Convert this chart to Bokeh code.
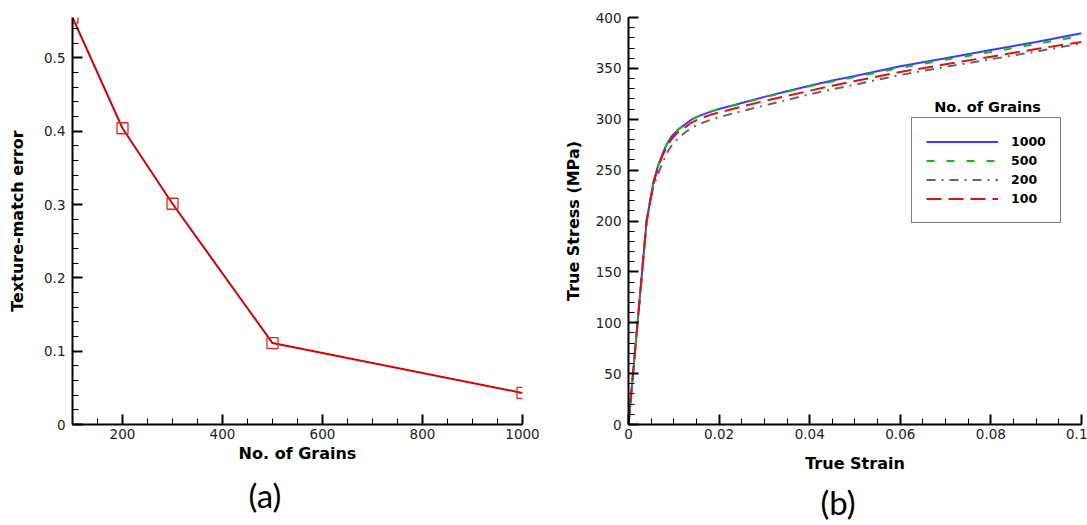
from bokeh.plotting import figure
from bokeh.models import (Range1d, SingleIntervalTicker, CustomJSTickFormatter,
                          Legend, LegendItem, Label, Title)
from bokeh.layouts import row
from bokeh.embed import file_html
from bokeh.resources import INLINE

# ---- data (a) ----
grains = [100, 200, 300, 500, 1000]
texture_error = [0.555, 0.404, 0.301, 0.111, 0.043]

# ---- data (b) ----
strain = [0, 0.001, 0.002, 0.003, 0.004, 0.0055, 0.0065, 0.0075, 0.0085, 0.0095,
          0.011, 0.0125, 0.014, 0.016, 0.0185, 0.02, 0.025, 0.03, 0.035, 0.04,
          0.045, 0.05, 0.06, 0.07, 0.08, 0.09, 0.1]
stress_1000 = [0, 50, 100, 150, 200, 238, 254, 266, 276, 283, 290, 295, 300, 304,
               308, 310, 316, 322, 327.5, 333, 338, 342.5, 352, 360, 368, 376, 384.5]
stress_500 = [0, 50, 100, 150, 200, 238, 254, 266, 276, 283, 290, 295, 300, 304,
              308, 310, 315.5, 321.5, 327, 332.5, 337, 341.5, 350.5, 358.5, 366, 374, 382]
stress_200 = [0, 50, 100, 150, 200, 234, 246, 257, 267, 274, 281.5, 287, 292, 296,
              300, 302, 308, 313.5, 319, 324.5, 329.5, 334, 343.5, 351.5, 359, 366.5, 374.5]
stress_100 = [0, 50, 100, 150, 200, 237, 252, 264, 273.5, 280.5, 287.5, 292, 297, 301,
              305, 306.7, 312.5, 318, 323, 328, 333, 337.5, 346.5, 354, 361.5, 369, 376]

FONT = "DejaVu Sans"


def style_axes(p):
    for ax in (p.xaxis[0], p.yaxis[0]):
        ax.axis_line_width = 2
        ax.axis_line_color = "black"
        ax.major_tick_in = 10
        ax.major_tick_out = 0
        ax.minor_tick_in = 6
        ax.minor_tick_out = 0
        ax.major_tick_line_width = 2
        ax.minor_tick_line_width = 1
        ax.major_tick_line_color = "black"
        ax.minor_tick_line_color = "black"
        ax.major_label_text_font = FONT
        ax.major_label_text_font_size = "13.5px"
        ax.major_label_text_color = "#222222"
        ax.axis_label_text_font = FONT
        ax.axis_label_text_font_style = "bold"
        ax.axis_label_text_font_size = "16px"
        ax.axis_label_text_color = "black"
    p.xaxis.major_label_standoff = 4
    p.yaxis.major_label_standoff = 7
    p.grid.visible = False
    p.outline_line_color = None


# ---------------- (a) ----------------
p1 = figure(width=560, height=525, output_backend="svg", toolbar_location=None,
            x_range=Range1d(100, 1000), y_range=Range1d(0, 0.555),
            min_border_left=72, min_border_right=38, min_border_top=17,
            min_border_bottom=97)
p1.line(grains, texture_error, line_color="#d40000", line_width=2)
p1.scatter(grains, texture_error, marker="square", size=11, fill_color=None,
           line_color="#e02828", line_width=1.3)
style_axes(p1)
p1.xaxis.ticker = SingleIntervalTicker(interval=200, num_minor_ticks=4)
p1.yaxis.ticker = SingleIntervalTicker(interval=0.1, num_minor_ticks=5)
p1.yaxis.formatter = CustomJSTickFormatter(code="return Number(tick.toFixed(2)).toString();")
p1.xaxis.axis_label = "No. of Grains"
p1.yaxis.axis_label = "Texture-match error"
p1.yaxis.axis_label_standoff = 14
p1.xaxis.axis_label_standoff = 2
p1.add_layout(Title(text="(a)", align="left", offset=176, text_font="Lato",
                    text_font_size="33px", text_font_style="normal",
                    text_line_height=0.7, text_color="black", standoff=14), "below")

# ---------------- (b) ----------------
p2 = figure(width=527, height=525, output_backend="svg", toolbar_location=None,
            x_range=Range1d(0, 0.100001), y_range=Range1d(0, 400),
            min_border_left=66, min_border_right=6, min_border_top=14,
            min_border_bottom=100)
r1000 = p2.line(strain, stress_1000, line_color="#3c3cff", line_width=2)
r500 = p2.line(strain, stress_500, line_color="#10c010", line_width=2,
               line_dash="8 12")
r200 = p2.line(strain, stress_200, line_color="#666666", line_width=2,
               line_dash="9 6 2 6")
r100 = p2.line(strain, stress_100, line_color="#e01010", line_width=2,
               line_dash="15 7")
style_axes(p2)
p2.xaxis.ticker = SingleIntervalTicker(interval=0.02, num_minor_ticks=4)
p2.yaxis.ticker = SingleIntervalTicker(interval=50, num_minor_ticks=5)
p2.xaxis.formatter = CustomJSTickFormatter(code="return Number(tick.toFixed(3)).toString();")
p2.xaxis.axis_label = "True Strain"
p2.yaxis.axis_label = "True Stress (MPa)"
p2.yaxis.axis_label_standoff = 10
p2.xaxis.axis_label_standoff = 12
p2.add_layout(Title(text="(b)", align="left", offset=192, text_font="Lato",
                    text_font_size="33px", text_font_style="normal",
                    text_line_height=0.7, text_color="black", standoff=8), "below")

legend = Legend(items=[LegendItem(label="1000", renderers=[r1000]),
                       LegendItem(label="500", renderers=[r500]),
                       LegendItem(label="200", renderers=[r200]),
                       LegendItem(label="100", renderers=[r100])],
                location=(283, 201))
legend.border_line_color = "black"
legend.border_line_width = 1.5
legend.background_fill_color = "white"
legend.background_fill_alpha = 1
legend.padding = 14
legend.spacing = 0
legend.margin = 0
legend.label_height = 19
legend.glyph_height = 19
legend.glyph_width = 72
legend.label_standoff = 13
legend.label_text_font = FONT
legend.label_text_font_style = "bold"
legend.label_text_font_size = "12.5px"
legend.label_text_color = "black"
p2.add_layout(legend, "center")

p2.add_layout(Label(x=359, y=318, x_units="screen", y_units="screen",
                    text="No. of Grains", text_align="center", text_baseline="middle",
                    text_font=FONT, text_font_style="bold", text_font_size="14.5px",
                    text_color="black"))

layout = row(p1, p2)
open("out.html", "w").write(file_html(layout, INLINE))
